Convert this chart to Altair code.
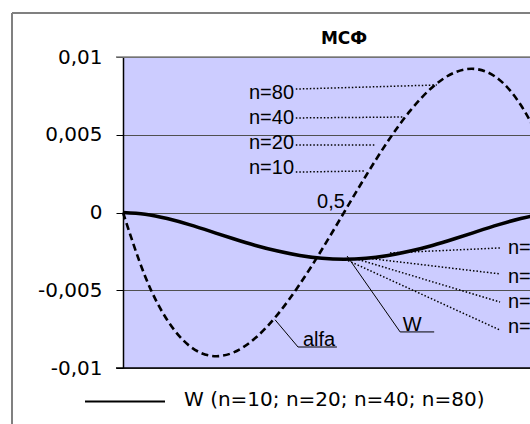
import altair as alt
import pandas as pd

# ---- data ----
x_vals = [0.0, 0.05, 0.1, 0.15, 0.2, 0.25, 0.3, 0.35, 0.4, 0.45, 0.5,
          0.55, 0.6, 0.65, 0.7, 0.75, 0.8, 0.85, 0.9, 0.95, 1.0]
w_vals = [0.0, -0.00011, -0.00039, -0.00078, -0.00123, -0.00169, -0.00212,
          -0.00248, -0.00276, -0.00294, -0.0030, -0.00294, -0.00276, -0.00248,
          -0.00212, -0.00169, -0.00123, -0.00078, -0.00039, -0.00011, 0.0]
alfa_vals = [0.0, -0.0041, -0.00691, -0.00857, -0.00922, -0.0090, -0.00806,
             -0.00655, -0.00461, -0.00238, 0.0, 0.00238, 0.00461, 0.00655,
             0.00806, 0.0090, 0.00922, 0.00857, 0.00691, 0.0041, 0.0]

y_ticks = [-0.01, -0.005, 0, 0.005, 0.01]

# annotation labels (data units)
lab_text = ["n=80", "n=40", "n=20", "n=10", "n=80", "n=40", "n=20", "n=10",
            "0,5", "alfa", "W"]
lab_x = [0.285, 0.285, 0.285, 0.285, 0.871, 0.871, 0.871, 0.871, 0.502, 0.407, 0.633]
lab_y = [0.00768, 0.00608, 0.00447, 0.00286, -0.00228, -0.00415, -0.00576,
         -0.00736, 0.00068, -0.0082, -0.00723]
lab_align = ["left"] * 8 + ["right", "left", "left"]

# dotted leader lines
dot_x1 = [0.391, 0.391, 0.391, 0.391, 0.604, 0.548, 0.525, 0.502]
dot_y1 = [0.00794, 0.00608, 0.00434, 0.0026, -0.0026, -0.00292, -0.00296, -0.0030]
dot_x2 = [0.710, 0.633, 0.570, 0.548, 0.853, 0.853, 0.853, 0.853]
dot_y2 = [0.0082, 0.00614, 0.00434, 0.00267, -0.00228, -0.00395, -0.00576, -0.00756]

# solid callout lines (alfa, W) with underlines
sol_x1 = [0.344, 0.396, 0.507, 0.627]
sol_y1 = [-0.0069, -0.00865, -0.0028, -0.00768]
sol_x2 = [0.396, 0.484, 0.627, 0.704]
sol_y2 = [-0.00865, -0.00865, -0.00768, -0.00768]

curves = pd.DataFrame({"x": x_vals, "W": w_vals, "alfa": alfa_vals})
labels = pd.DataFrame({"x": lab_x, "y": lab_y, "t": lab_text, "a": lab_align})
dots = pd.DataFrame({"x": dot_x1, "y": dot_y1, "x2": dot_x2, "y2": dot_y2})
sols = pd.DataFrame({"x": sol_x1, "y": sol_y1, "x2": sol_x2, "y2": sol_y2})
one = pd.DataFrame({"k": [0]})

W_PLOT, H_PLOT = 407, 311
xs = alt.Scale(domain=[0, 0.9208], nice=False, zero=False)
ys = alt.Scale(domain=[-0.01, 0.01], nice=False, zero=False)

yaxis = alt.Axis(values=y_ticks, labelExpr="replace(toString(datum.value), '.', ',')",
                 tickSize=7, tickColor="black", domainColor="black", domainWidth=1.5,
                 labelFont="DejaVu Sans", labelFontSize=20, labelColor="black",
                 labelPadding=14, grid=True, gridColor="#505050", gridWidth=1,
                 title=None)


def X(f):
    return alt.X(f, scale=xs, axis=None, title=None)


def Y(f):
    return alt.Y(f, scale=ys, axis=yaxis, title=None)


alfa_line = alt.Chart(curves).mark_line(color="black", strokeDash=[7, 4], strokeWidth=2.6,
                                        interpolate="natural").encode(
    x=X("x:Q"), y=Y("alfa:Q"))

w_line = alt.Chart(curves).mark_line(color="black", strokeWidth=3.5,
                                     interpolate="natural").encode(
    x=X("x:Q"), y=Y("W:Q"))

top_border = alt.Chart(one).mark_rule(color="#808080", strokeWidth=1.5).encode(
    x=alt.value(-7), x2=alt.value(W_PLOT), y=alt.value(0))
bottom_border = alt.Chart(one).mark_rule(color="black", strokeWidth=1.5).encode(
    x=alt.value(-7), x2=alt.value(W_PLOT), y=alt.value(H_PLOT))

dot_rules = alt.Chart(dots).mark_rule(color="black", strokeWidth=1.5, strokeDash=[1.5, 2]).encode(
    x=X("x:Q"), y=Y("y:Q"), x2="x2:Q", y2="y2:Q")
sol_rules = alt.Chart(sols).mark_rule(color="black", strokeWidth=1).encode(
    x=X("x:Q"), y=Y("y:Q"), x2="x2:Q", y2="y2:Q")

left_labels = alt.Chart(labels).transform_filter("datum.a == 'left'").mark_text(
    font="Liberation Sans", fontSize=20, align="left", baseline="middle", color="black").encode(
    x=X("x:Q"), y=Y("y:Q"), text="t:N")
right_labels = alt.Chart(labels).transform_filter("datum.a == 'right'").mark_text(
    font="Liberation Sans", fontSize=20, align="right", baseline="middle", color="black").encode(
    x=X("x:Q"), y=Y("y:Q"), text="t:N")

title = alt.Chart(pd.DataFrame({"x": [0.5], "t": ["МСФ"]})).mark_text(
    font="DejaVu Sans", fontSize=17, fontWeight="bold", baseline="middle", color="black").encode(
    x=X("x:Q"), y=alt.value(-18), text="t:N")

# outer chart frame (gray)
frame_top = alt.Chart(one).mark_rule(color="#808080", strokeWidth=2).encode(
    x=alt.value(-111), x2=alt.value(W_PLOT + 20), y=alt.value(-44))
frame_left = alt.Chart(one).mark_rule(color="#808080", strokeWidth=2).encode(
    x=alt.value(-111), y=alt.value(-44), y2=alt.value(H_PLOT + 80))

# legend
leg_line = alt.Chart(one).mark_rule(color="black", strokeWidth=2).encode(
    x=alt.value(-38), x2=alt.value(42), y=alt.value(344.5))
leg_text = alt.Chart(pd.DataFrame({"t": ["W (n=10; n=20; n=40; n=80)"]})).mark_text(
    font="DejaVu Sans", fontSize=20, align="left", baseline="middle", color="black").encode(
    x=alt.value(61), y=alt.value(343), text="t:N")

chart = alt.layer(
    alfa_line, frame_top, frame_left,
    w_line, top_border, bottom_border,
    dot_rules, sol_rules, left_labels, right_labels, title,
    leg_line, leg_text,
).properties(
    width=W_PLOT, height=H_PLOT,
    autosize=alt.AutoSizeParams(type="none"),
    padding={"left": 123, "top": 57, "right": 0, "bottom": 56},
    background="white",
).configure_view(stroke=None, fill="#CCCCFF")

chart.save("out.html", embed_options={"renderer": "svg", "actions": False})
